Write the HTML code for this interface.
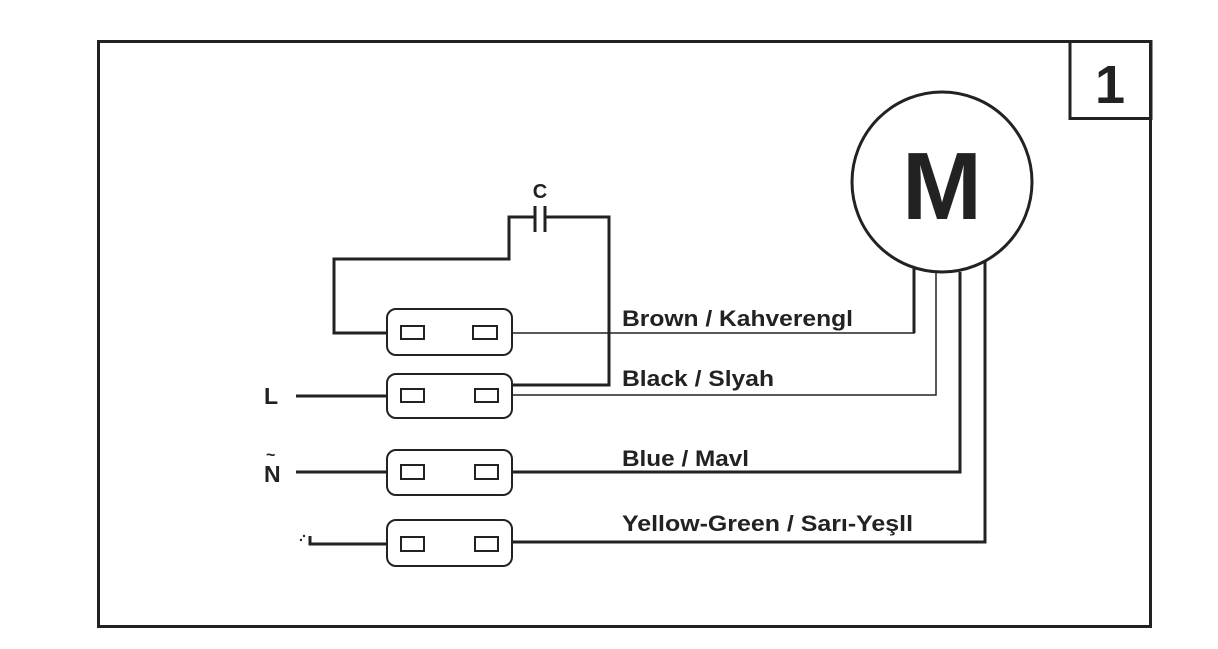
<!DOCTYPE html>
<html><head><meta charset="utf-8"><style>
html,body{margin:0;padding:0;background:#fff;}
svg{display:block}
text{font-family:"Liberation Sans",Arial,sans-serif;font-weight:bold;fill:#222}
</style></head><body>
<svg width="1218" height="649" viewBox="0 0 1218 649" xmlns="http://www.w3.org/2000/svg">
<rect x="98.5" y="41.5" width="1052" height="585" fill="none" stroke="#222" stroke-width="3"/>
<rect x="1070" y="41.5" width="81" height="77" fill="none" stroke="#222" stroke-width="3"/>
<text x="1110" y="103" font-size="54" text-anchor="middle">1</text>
<circle cx="942" cy="182" r="90" fill="none" stroke="#222" stroke-width="3"/>
<text x="942" y="219" font-size="96" text-anchor="middle">M</text>
<g fill="none" stroke="#222" stroke-linejoin="miter">
<polyline points="914,268 914,333 512,333" stroke-width="1.6"/>
<line x1="914" y1="268" x2="914" y2="333" stroke-width="3"/>
<polyline points="936,272 936,395 512,395" stroke-width="1.5"/>
<polyline points="960,272 960,472 512,472" stroke-width="3"/>
<polyline points="985,262 985,542 512,542" stroke-width="3"/>
<polyline points="387,333 334,333 334,259 509,259 509,217 535,217" stroke-width="3"/>
<line x1="535" y1="206" x2="535" y2="232" stroke-width="3"/>
<line x1="545" y1="206" x2="545" y2="232" stroke-width="3"/>
<polyline points="545,217 609,217 609,385 512,385" stroke-width="3"/>
<line x1="296" y1="396" x2="387" y2="396" stroke-width="3"/>
<line x1="296" y1="472" x2="387" y2="472" stroke-width="3"/>
<polyline points="310,536 310,544 387,544" stroke-width="3"/>
<g stroke-width="2">
<rect x="387" y="309" width="125" height="46" rx="9"/>
<rect x="387" y="374" width="125" height="44" rx="9"/>
<rect x="387" y="450" width="125" height="45" rx="9"/>
<rect x="387" y="520" width="125" height="46" rx="9"/>
<rect x="401" y="326" width="23" height="13"/><rect x="473" y="326" width="24" height="13"/>
<rect x="401" y="389" width="23" height="13"/><rect x="475" y="389" width="23" height="13"/>
<rect x="401" y="465" width="23" height="14"/><rect x="475" y="465" width="23" height="14"/>
<rect x="401" y="537" width="23" height="14"/><rect x="475" y="537" width="23" height="14"/>
</g>
</g>
<circle cx="301" cy="540" r="1.2" fill="#222"/><circle cx="304" cy="536" r="1.2" fill="#222"/>
<text x="540" y="198" font-size="20" text-anchor="middle">C</text>
<text x="264" y="404" font-size="23">L</text>
<text x="264" y="482" font-size="23">N</text>
<text x="266" y="460" font-size="16">~</text>
<text x="622" y="326" font-size="22" textLength="231" lengthAdjust="spacingAndGlyphs">Brown / Kahverengl</text>
<text x="622" y="386" font-size="22" textLength="152" lengthAdjust="spacingAndGlyphs">Black / Slyah</text>
<text x="622" y="466" font-size="22" textLength="127" lengthAdjust="spacingAndGlyphs">Blue / Mavl</text>
<text x="622" y="531" font-size="22" textLength="291" lengthAdjust="spacingAndGlyphs">Yellow-Green / Sarı-Yeşll</text>
</svg>
</body></html>
